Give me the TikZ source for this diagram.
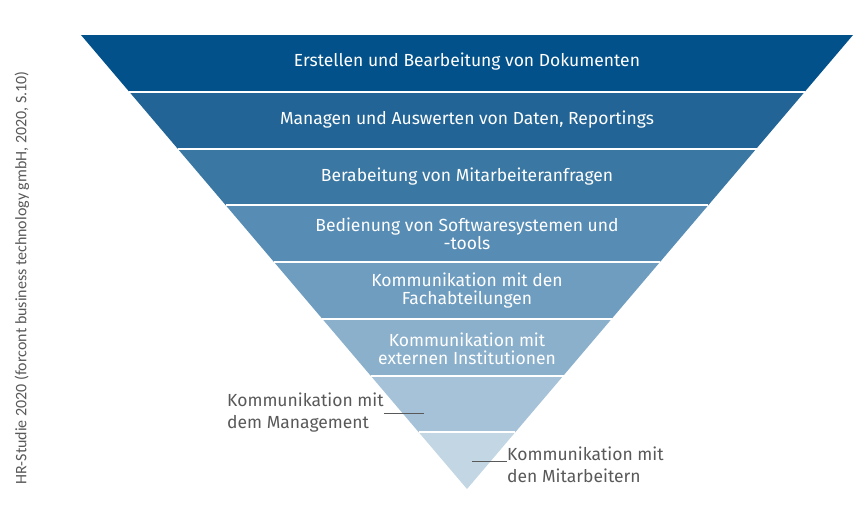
\documentclass[tikz,border=0pt]{standalone}
\usepackage{fontspec}
\setmainfont{Fira Sans}
\newfontfamily\notefont{Carlito}
\usetikzlibrary{positioning}
\definecolor{band1}{HTML}{02518A}
\definecolor{band2}{HTML}{216495}
\definecolor{band3}{HTML}{3A77A2}
\definecolor{band4}{HTML}{578CB4}
\definecolor{band5}{HTML}{6F9DC0}
\definecolor{band6}{HTML}{8BB0CC}
\definecolor{band7}{HTML}{A6C2D8}
\definecolor{band8}{HTML}{C3D6E4}
\definecolor{labelgray}{HTML}{595959}

\begin{document}
\begin{tikzpicture}[x=1pt,y=-1pt,font=\fontsize{17.5}{18}\selectfont]
\tikzstyle{level}=[text=white,align=center,inner sep=0pt]
\tikzstyle{side}=[text=labelgray,align=left,inner sep=0pt,font=\fontsize{17.5}{22}\selectfont]
\tikzstyle{leader}=[draw=labelgray,line width=0.8pt]

\useasboundingbox (0,0) rectangle (866,515);

%--- bands ---
\foreach \i/\c in {0/band1,1/band2,2/band3,3/band4,4/band5,5/band6,6/band7,7/band8}
  \fill[\c] ({81+48.25*\i},{35+56.75*\i}) -- ({853-48.25*\i},{35+56.75*\i})
    -- ({853-48.25*(\i+1)},{35+56.75*(\i+1)}) -- ({81+48.25*(\i+1)},{35+56.75*(\i+1)}) -- cycle;

%--- separators ---
\foreach \i in {1,...,7}
  \draw[white,line width=2pt] ({81+48.25*\i},{35+56.75*\i}) -- ({853-48.25*\i},{35+56.75*\i});

%--- band texts ---
\node[level] (doks) at (467,62) {Erstellen und Bearbeitung von Dokumenten};
\node[level] (daten) at (467,120) {Managen und Auswerten von Daten, Reportings};
\node[level] (anfr) at (467,177) {Berabeitung von Mitarbeiteranfragen};
\node[level] (tools) at (467,234) {Bedienung von Softwaresystemen und\\-tools};
\node[level] (fach) at (467,291) {Kommunikation mit den\\Fachabteilungen};
\node[level] (inst) at (467,349) {Kommunikation mit\\externen Institutionen};

%--- side labels ---
\node[side, anchor=west] (mgmt) at (227,413) {Kommunikation mit\\dem Management};
\node[side, anchor=west] (mitarb) at (507,465) {Kommunikation mit\\den Mitarbeitern};
\coordinate (mgmtend) at (424,413);
\coordinate (mitarbend) at (472,461);
\draw[leader] (mgmt.east) -- (mgmtend);
\draw[leader] (mitarbend) -- (mitarbend -| mitarb.west);

%--- source ---
\node[rotate=90, text=labelgray, font=\notefont\fontsize{16}{18}\selectfont] (quelle) at (22,278)
  {HR-Studie 2020 (forcont business technology gmbH, 2020, S.10)};

\end{tikzpicture}
\end{document}
